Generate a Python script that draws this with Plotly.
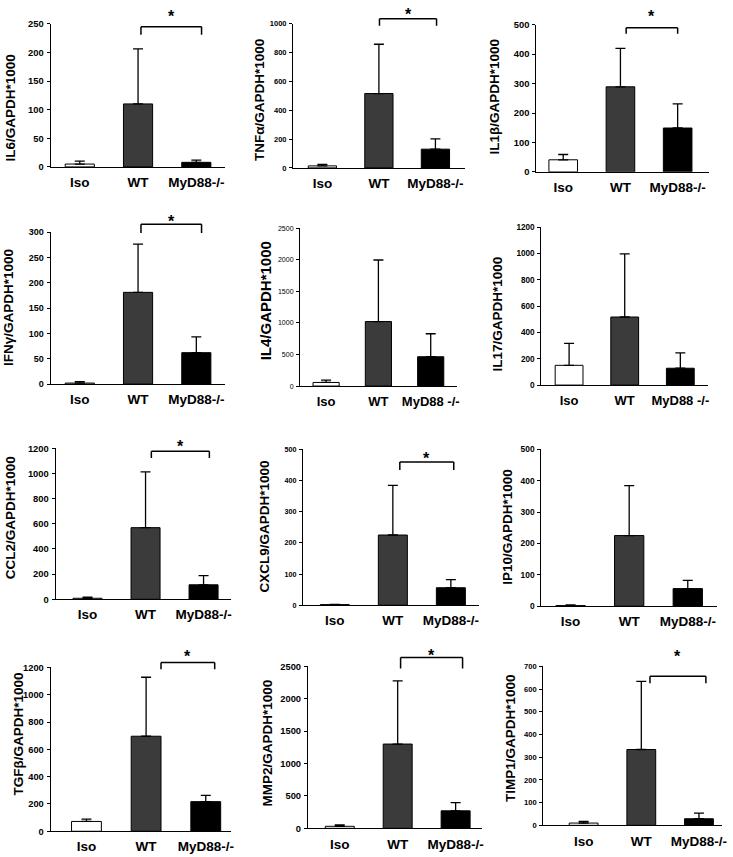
import plotly.graph_objects as go

W, H = 733, 857

groups = ["Iso", "WT", "MyD88-/-"]
groups_spaced = ["Iso", "WT", "MyD88 -/-"]
bar_colors = ["#ffffff", "#3b3b3b", "#000000"]

# mean values and top of the error bar (mean + SD)
il6_mean = [5, 110, 8]
il6_upper = [10, 206, 12]
tnf_mean = [14, 516, 130]
tnf_upper = [25, 858, 201]
il1b_mean = [41, 289, 149]
il1b_upper = [59, 420, 231]
ifng_mean = [2, 181, 62]
ifng_upper = [5, 276, 93]
il4_mean = [57, 1021, 464]
il4_upper = [94, 1995, 828]
il17_mean = [150, 517, 128]
il17_upper = [317, 997, 245]
ccl2_mean = [8, 569, 115]
ccl2_upper = [16, 1012, 188]
cxcl9_mean = [2, 225, 56]
cxcl9_upper = [3, 384, 82]
ip10_mean = [2, 225, 56]
ip10_upper = [4, 384, 82]
tgfb_mean = [72, 696, 217]
tgfb_upper = [89, 1128, 263]
mmp2_mean = [31, 1301, 270]
mmp2_upper = [51, 2276, 398]
timp1_mean = [10, 334, 29]
timp1_upper = [17, 634, 54]

y_titles = ["IL6/GAPDH*1000", "TNFα/GAPDH*1000", "IL1β/GAPDH*1000",
            "IFNγ/GAPDH*1000", "IL4/GAPDH*1000", "IL17/GAPDH*1000",
            "CCL2/GAPDH*1000", "CXCL9/GAPDH*1000", "IP10/GAPDH*1000",
            "TGFβ/GAPDH*1000", "MMP2/GAPDH*1000", "TIMP1/GAPDH*1000"]
y_max = [250, 1000, 500, 300, 2500, 1200, 1200, 500, 500, 1200, 2500, 700]
y_step = [50, 200, 100, 50, 500, 200, 200, 100, 100, 200, 500, 100]
significant = [True, True, True, True, False, False, True, True, False, True, True, True]

means = [il6_mean, tnf_mean, il1b_mean, ifng_mean, il4_mean, il17_mean,
         ccl2_mean, cxcl9_mean, ip10_mean, tgfb_mean, mmp2_mean, timp1_mean]
uppers = [il6_upper, tnf_upper, il1b_upper, ifng_upper, il4_upper, il17_upper,
          ccl2_upper, cxcl9_upper, ip10_upper, tgfb_upper, mmp2_upper, timp1_upper]

# ---- layout / style (pixel boxes of each plotting area) ----
boxes = [(51, 227, 18, 163), (295, 468, 18, 164), (540, 714, 19, 168),
         (51, 227, 229, 383), (302, 460, 225, 385), (545, 713, 224, 384),
         (56, 233, 448, 601), (305, 482, 449, 607), (545, 722, 449, 608),
         (51, 233, 670, 836), (310, 485, 669, 833), (547, 727, 669, 830)]
x_ranges = [(-0.5, 2.5), (-0.52, 2.52), (-0.47, 2.55),
            (-0.5, 2.5), (-0.5, 2.5), (-0.5, 2.5),
            (-0.55, 2.48), (-0.55, 2.48), (-0.5, 2.5),
            (-0.6, 2.43), (-0.55, 2.45), (-0.7, 2.4)]
title_pos = [(11, 103), (262, 95), (498, 92), (8, 305), (267, 299), (501, 312),
             (10, 518), (266, 527), (511, 528), (19, 737), (269, 747), (514, 741)]
title_size = [13.5, 13.5, 13.5, 13.5, 15, 13.5, 13.5, 13.5, 13.5, 13.5, 13.5, 13.5]
xlab_size = [13.5, 13.5, 13.5, 13.5, 13, 13, 13.5, 13.5, 13.5, 13.5, 13.5, 13.5]
ytick_size = [9.4, 7.5, 9.4, 9, 7, 8.2, 9.4, 7.2, 8.4, 9.3, 9.3, 7.6]
# bracket: top y px, end y px, star y px, offsets of bracket ends (category units)
brackets = [(21, 29, 7, 0.05, 0.09), (13, 20, 5, 0.01, 0.02), (22, 28, 7, 0.1, 0.0),
            (221, 230, 215, 0.05, 0.09), None, None,
            (451, 458, 443, 0.1, 0.1), (462, 470, 455, 0.12, 0.05), None,
            (665, 672, 655, 0.25, 0.15), (660, 671, 654, 0.05, 0.12),
            (679, 686, 655, 0.15, 0.12)]


def px_y(p):
    return 1 - p / H


def px_x(p):
    return p / W


fig = go.Figure()
annotations = []
shapes = []
FONT = "Liberation Sans, Arial, sans-serif"

for k in range(12):
    n = k + 1
    xa = "x" if n == 1 else f"x{n}"
    ya = "y" if n == 1 else f"y{n}"
    labels = groups_spaced if k in (4, 5) else groups
    err_plus = [u - m for u, m in zip(uppers[k], means[k])]
    fig.add_trace(go.Bar(
        x=labels, y=means[k], xaxis=xa, yaxis=ya,
        marker=dict(color=bar_colors, line=dict(color="black", width=1)),
        width=0.5,
        error_y=dict(type="data", symmetric=False, array=err_plus,
                     arrayminus=[0, 0, 0], color="black", thickness=1.3, width=5),
        showlegend=False, hoverinfo="skip",
    ))
    l, r, t, b = boxes[k]
    ytick_font = dict(family=FONT, size=ytick_size[k], color="black")
    if k != 4:
        ytick_font["weight"] = "bold"
    fig.layout[("xaxis" if n == 1 else f"xaxis{n}")] = dict(
        domain=[px_x(l), px_x(r)], anchor=ya, showline=True, linecolor="black",
        linewidth=1, ticks="", showgrid=False, zeroline=False, range=list(x_ranges[k]),
        tickfont=dict(family=FONT, size=xlab_size[k], color="black", weight="bold"),
        ticklabelstandoff=3, fixedrange=True)
    fig.layout[("yaxis" if n == 1 else f"yaxis{n}")] = dict(
        domain=[px_y(b), px_y(t)], anchor=xa, range=[0, y_max[k]], dtick=y_step[k],
        tick0=0, showline=True, linecolor="black", linewidth=1, ticks="outside",
        ticklen=3, tickcolor="black", showgrid=False, zeroline=False,
        tickfont=ytick_font, ticklabelstandoff=1, fixedrange=True)
    tx, ty = title_pos[k]
    annotations.append(dict(
        text=y_titles[k], xref="paper", yref="paper", x=px_x(tx), y=px_y(ty),
        xanchor="center", yanchor="middle", textangle=-90, showarrow=False,
        font=dict(family=FONT, size=title_size[k], color="black", weight="bold")))
    if significant[k] and brackets[k]:
        bt, be, sy, o0, o1 = brackets[k]
        i0 = labels.index(labels[1]) + o0
        i1 = labels.index(labels[2]) + o1
        for (xx0, yy0, xx1, yy1) in [(i0, be, i0, bt), (i0, bt, i1, bt), (i1, bt, i1, be)]:
            shapes.append(dict(type="line", xref=xa, yref="paper",
                               x0=xx0, x1=xx1, y0=px_y(yy0), y1=px_y(yy1),
                               line=dict(color="black", width=1.5)))
        annotations.append(dict(
            text="*", xref=xa, yref="paper", x=(i0 + i1) / 2, y=px_y(sy + 3.5),
            xanchor="center", yanchor="middle", showarrow=False,
            font=dict(family=FONT, size=16, color="black", weight="bold")))

fig.update_layout(
    width=W, height=H, margin=dict(l=0, r=0, t=0, b=0),
    paper_bgcolor="white", plot_bgcolor="white",
    annotations=annotations, shapes=shapes,
    font=dict(family=FONT, color="black"),
)

fig.write_html("out.html", config={"displayModeBar": False},
               post_script="document.body.style.margin='0';")
